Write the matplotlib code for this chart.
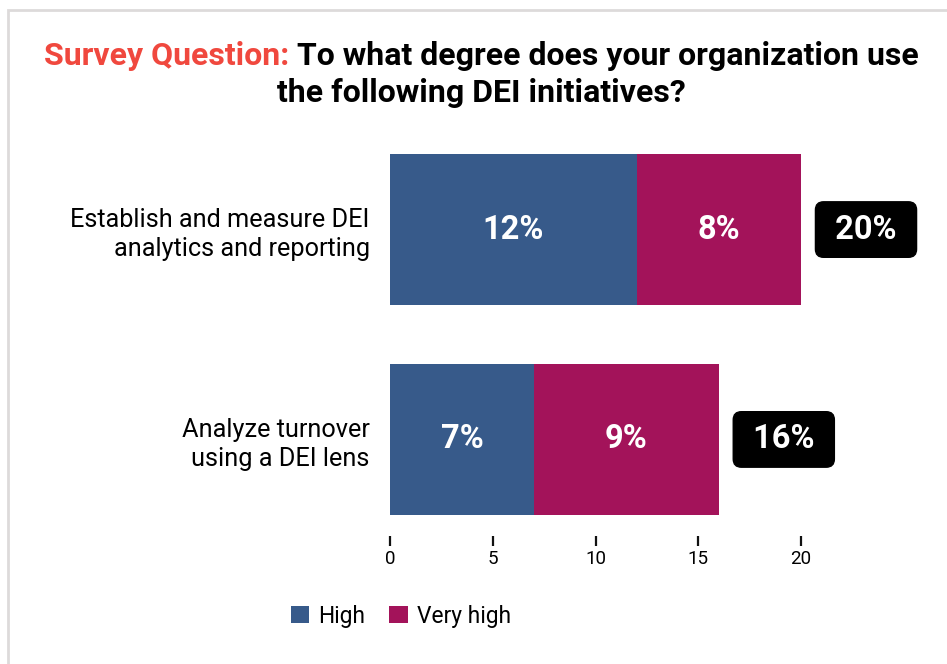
import matplotlib.pyplot as plt
from matplotlib.patches import Rectangle

plt.rcParams['font.family'] = ['Roboto', 'DejaVu Sans']

categories = ["Establish and measure DEI\nanalytics and reporting",
              "Analyze turnover\nusing a DEI lens"]
high = [12, 7]
very_high = [8, 9]
series_names = ["High", "Very high"]
colors = ["#375A8A", "#A3135A"]

fig = plt.figure(figsize=(9.47, 6.64), dpi=100)

# light frame around the card
fig.patches.append(Rectangle((8 / 947, -0.1), 1.2, 1 - 10 / 664 + 0.1,
                             transform=fig.transFigure, fill=False,
                             edgecolor="#DDDADA", linewidth=2))

ax = fig.add_axes([390 / 947, 1 - 536 / 664, 411 / 947, 403 / 664])
ypos = [1, 0]
ax.barh(ypos, high, height=0.72, color=colors[0], label=series_names[0])
ax.barh(ypos, very_high, left=high, height=0.72, color=colors[1], label=series_names[1])

for y, h, v in zip(ypos, high, very_high):
    ax.text(h / 2, y, f"{h}%", ha="center", va="center", color="white",
            fontsize=23.5, fontweight="bold")
    ax.text(h + v / 2, y, f"{v}%", ha="center", va="center", color="white",
            fontsize=23.5, fontweight="bold")
    total = h + v
    ax.annotate(f" {total}% ", xy=(total, y), xytext=(65, 0), textcoords="offset pixels",
                ha="center", va="center", color="white", fontsize=23.5, fontweight="bold",
                bbox=dict(boxstyle="round,pad=0.36,rounding_size=0.25", fc="black", ec="black"))

ax.set_xlim(0, 20)
ax.set_ylim(-0.46, 1.46)
ax.set_xticks([0, 5, 10, 15, 20])
ax.set_yticks(ypos)
ax.set_yticklabels(categories, fontsize=18.2, linespacing=1.25)
ax.tick_params(axis="y", length=0, pad=14.5)
ax.tick_params(axis="x", length=7, width=1.6, color="#111111", labelsize=13.5, pad=3)
for s in ax.spines.values():
    s.set_visible(False)

leg = fig.legend(loc="center", bbox_to_anchor=(401 / 947, 1 - 616 / 664), ncol=2,
                 frameon=False, fontsize=16.4, handlelength=0.8, handleheight=0.8,
                 handletextpad=0.42, columnspacing=1.05)

# title: red lead-in followed by black question
fig.canvas.draw()
r = fig.canvas.get_renderer()
t1 = fig.text(0, 0, "Survey Question: ", fontsize=23, fontweight="bold", color="#F0483E")
t2 = fig.text(0, 0, "To what degree does your organization use", fontsize=23,
              fontweight="bold", color="black")
w1 = t1.get_window_extent(r).width
w2 = t2.get_window_extent(r).width
start = 481 - (w1 + w2) / 2
y1 = 1 - 65 / 664
t1.set_position((start / 947, y1))
t2.set_position(((start + w1) / 947, y1))
fig.text(481 / 947, 1 - 102 / 664, "the following DEI initiatives?", fontsize=23,
         fontweight="bold", ha="center", color="black")

fig.savefig("out.png", dpi=100)
